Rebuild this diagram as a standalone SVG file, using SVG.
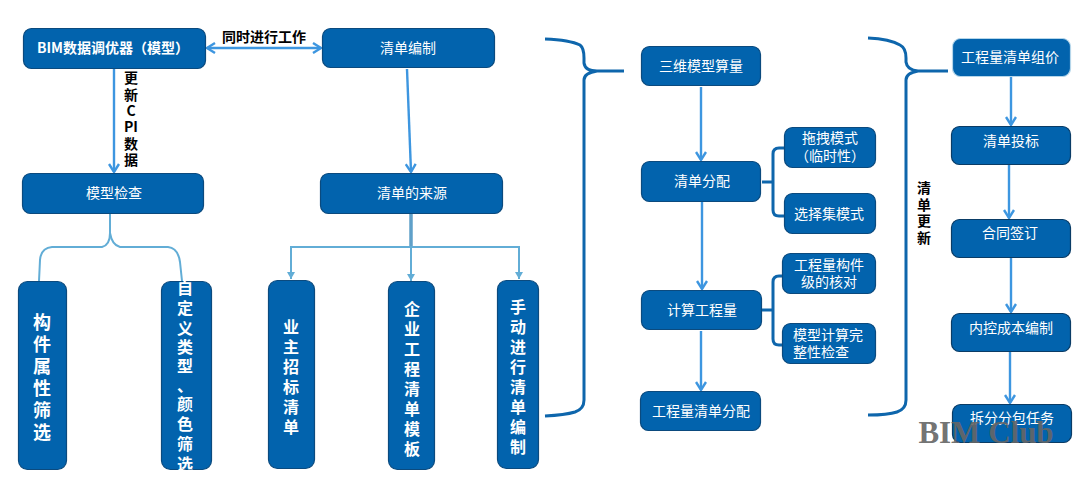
<svg xmlns="http://www.w3.org/2000/svg" width="1085" height="479" viewBox="0 0 1085 479">
<style>
text{font-family:"Noto Sans CJK SC","Liberation Sans",sans-serif;text-anchor:middle}
.n rect{fill:#0263ad;stroke:#0b4a7e;stroke-width:1.2}
.n text{fill:#fff;font-size:14px}
.v text{font-weight:700;font-size:16px}
.b{font-weight:700;font-size:14px;fill:#000}
.a{fill:none;stroke:#3d96e0;stroke-width:2.4}
.t{fill:none;stroke:#62add6;stroke-width:2}
.br{fill:none;stroke:#0e66ac;stroke-width:3}
.s{fill:none;stroke:#0e66ac;stroke-width:3}
</style>
<defs>
<marker id="ah" markerUnits="userSpaceOnUse" markerWidth="14" markerHeight="12" refX="10" refY="6" orient="auto-start-reverse"><path d="M2 1L10 6L2 11" fill="none" stroke="#3d96e0" stroke-width="2.4"/></marker>
<marker id="ta" markerUnits="userSpaceOnUse" markerWidth="10" markerHeight="10" refX="7" refY="5" orient="auto"><path d="M0 1L7 5L0 9Z" fill="#62add6"/></marker>
</defs>
<g id="connectors">
<path class="a" d="M207 48H321" marker-start="url(#ah)" marker-end="url(#ah)"/>
<path class="a" d="M114 69V172" marker-end="url(#ah)"/>
<path class="a" d="M407 69L411 172" marker-end="url(#ah)"/>
<path class="t" d="M110 214V233Q110 245 102 247H52Q41 248 40 260L39 281"/>
<path class="t" d="M110 214V233Q112 245 120 247H168Q178 248 180 262L182 281"/>
<path d="M411 214V247" fill="none" stroke="#5fa0c9" stroke-width="3.5"/>
<path class="t" d="M291 279V247H519V279" marker-end="url(#ta)"/>
<path class="t" d="M291 247V279" marker-end="url(#ta)"/>
<path class="t" d="M411 247V281" marker-end="url(#ta)"/>
<path class="br" d="M545 39Q570 40 580 45Q584 48 584 58V63Q585 71 597 71H624M597 71Q584 73 584 80V400Q584 409 575 412Q565 415 545 416"/>
<path class="a" d="M701 87V160" marker-end="url(#ah)"/>
<path class="a" d="M702 202V289" marker-end="url(#ah)"/>
<path class="a" d="M701 331V390" marker-end="url(#ah)"/>
<path class="s" d="M762 182H773M784 148H779Q773 148 773 154V210Q773 216 779 216H784"/>
<path class="s" d="M762 310H773M782 276H779Q773 276 773 282V339Q773 345 779 345H782"/>
<path class="br" d="M868 38Q890 39 900 45Q906 48 906 58V62Q907 70 918 71H948M918 71Q906 73 906 80V400Q906 409 897 412Q888 415 868 415"/>
<path class="a" d="M1011 77V125" marker-end="url(#ah)"/>
<path class="a" d="M1009 165V218" marker-end="url(#ah)"/>
<path class="a" d="M1011 258V312" marker-end="url(#ah)"/>
<path class="a" d="M1010 352V403" marker-end="url(#ah)"/>
</g>
<g id="n1" class="n"><rect x="23.5" y="28.5" width="182" height="40" rx="8"/><text x="113" y="53" style="font-weight:700">BIM数据调优器（模型）</text></g>
<g id="n2" class="n"><rect x="322.5" y="28.5" width="172" height="39" rx="8"/><text x="408" y="53">清单编制</text></g>
<g id="n3" class="n"><rect x="22.5" y="173.5" width="181" height="40" rx="8"/><text x="114" y="198">模型检查</text></g>
<g id="n4" class="n"><rect x="320.5" y="173.5" width="182" height="40" rx="8"/><text x="412" y="198">清单的来源</text></g>
<g id="n5" class="n v"><rect x="18.5" y="281.5" width="48" height="188" rx="9"/><text style="font-size:18px"><tspan x="42" y="329">构</tspan><tspan x="42" dy="22">件</tspan><tspan x="42" dy="22">属</tspan><tspan x="42" dy="22">性</tspan><tspan x="42" dy="22">筛</tspan><tspan x="42" dy="22">选</tspan></text></g>
<g id="n6" class="n v"><rect x="161.5" y="281.5" width="50" height="188" rx="9"/><text><tspan x="185" y="294">自</tspan><tspan x="185" dy="20">定</tspan><tspan x="185" dy="20">义</tspan><tspan x="185" dy="19">类</tspan><tspan x="185" dy="19">型</tspan><tspan x="185" dy="20">、</tspan><tspan x="185" dy="18">颜</tspan><tspan x="185" dy="20">色</tspan><tspan x="185" dy="20">筛</tspan><tspan x="185" dy="20">选</tspan></text></g>
<g id="n7" class="n v"><rect x="268.5" y="280.5" width="46" height="188" rx="9"/><text><tspan x="291" y="333">业</tspan><tspan x="291" dy="20">主</tspan><tspan x="291" dy="20">招</tspan><tspan x="291" dy="20">标</tspan><tspan x="291" dy="20">清</tspan><tspan x="291" dy="20">单</tspan></text></g>
<g id="n8" class="n v"><rect x="388.5" y="281.5" width="46" height="188" rx="9"/><text><tspan x="412" y="315">企</tspan><tspan x="412" dy="20">业</tspan><tspan x="412" dy="20">工</tspan><tspan x="412" dy="20">程</tspan><tspan x="412" dy="20">清</tspan><tspan x="412" dy="20">单</tspan><tspan x="412" dy="20">模</tspan><tspan x="412" dy="20">板</tspan></text></g>
<g id="n9" class="n v"><rect x="497.5" y="280.5" width="41" height="188" rx="9"/><text><tspan x="518" y="313">手</tspan><tspan x="518" dy="20">动</tspan><tspan x="518" dy="20">进</tspan><tspan x="518" dy="20">行</tspan><tspan x="518" dy="20">清</tspan><tspan x="518" dy="20">单</tspan><tspan x="518" dy="20">编</tspan><tspan x="518" dy="20">制</tspan></text></g>
<g id="n10" class="n"><rect x="641.5" y="46.5" width="119" height="39" rx="8"/><text x="701" y="71">三维模型算量</text></g>
<g id="n11" class="n"><rect x="641.5" y="161.5" width="119" height="40" rx="8"/><text x="702" y="186">清单分配</text></g>
<g id="n12" class="n"><rect x="784.5" y="127.5" width="91" height="40" rx="8"/><text x="830" y="143">拖拽模式</text><text x="830" y="161">（临时性）</text></g>
<g id="n13" class="n"><rect x="784.5" y="193.5" width="91" height="40" rx="8"/><text x="829" y="219">选择集模式</text></g>
<g id="n14" class="n"><rect x="641.5" y="290.5" width="120" height="39" rx="8"/><text x="702" y="315">计算工程量</text></g>
<g id="n15" class="n"><rect x="782.5" y="253.5" width="93" height="40" rx="8"/><text x="829" y="270">工程量构件</text><text x="829" y="287">级的核对</text></g>
<g id="n16" class="n"><rect x="782.5" y="323.5" width="93" height="40" rx="8"/><text x="828" y="340">模型计算完</text><text x="821" y="357">整性检查</text></g>
<g id="n17" class="n"><rect x="640.5" y="391.5" width="120" height="39" rx="8"/><text x="701" y="416">工程量清单分配</text></g>
<g id="n18" class="n"><rect x="952.5" y="38.5" width="118" height="38" rx="8" style="stroke:#b5d6ea"/><text x="1010" y="62">工程量清单组价</text></g>
<g id="n19" class="n"><rect x="951.5" y="126.5" width="119" height="38" rx="8" style="stroke:#0a3c66"/><text x="1011" y="146">清单投标</text></g>
<g id="n20" class="n"><rect x="951.5" y="219.5" width="119" height="38" rx="8" style="stroke:#0a3c66"/><text x="1010" y="238">合同签订</text></g>
<g id="n21" class="n"><rect x="951.5" y="313.5" width="119" height="38" rx="8" style="stroke:#0a3c66"/><text x="1011" y="333">内控成本编制</text></g>
<g id="n22" class="n"><rect x="952.5" y="404.5" width="119" height="38" rx="8" style="stroke:#0a3c66"/><text x="1012" y="423">拆分分包任务</text></g>
<text class="b" x="264" y="42">同时进行工作</text>
<text class="b"><tspan x="131" y="83">更</tspan><tspan x="131" dy="17">新</tspan><tspan x="131" dy="16">C</tspan><tspan x="131" dy="16">PI</tspan><tspan x="131" dy="17">数</tspan><tspan x="131" dy="16">据</tspan></text>
<text class="b"><tspan x="924" y="193">清</tspan><tspan x="924" dy="17">单</tspan><tspan x="924" dy="16">更</tspan><tspan x="924" dy="17">新</tspan></text>
<text x="986" y="443" style="font-family:'Liberation Serif',serif;font-weight:700;font-size:31px;fill:#666;fill-opacity:.93">BIM Club</text>
</svg>
